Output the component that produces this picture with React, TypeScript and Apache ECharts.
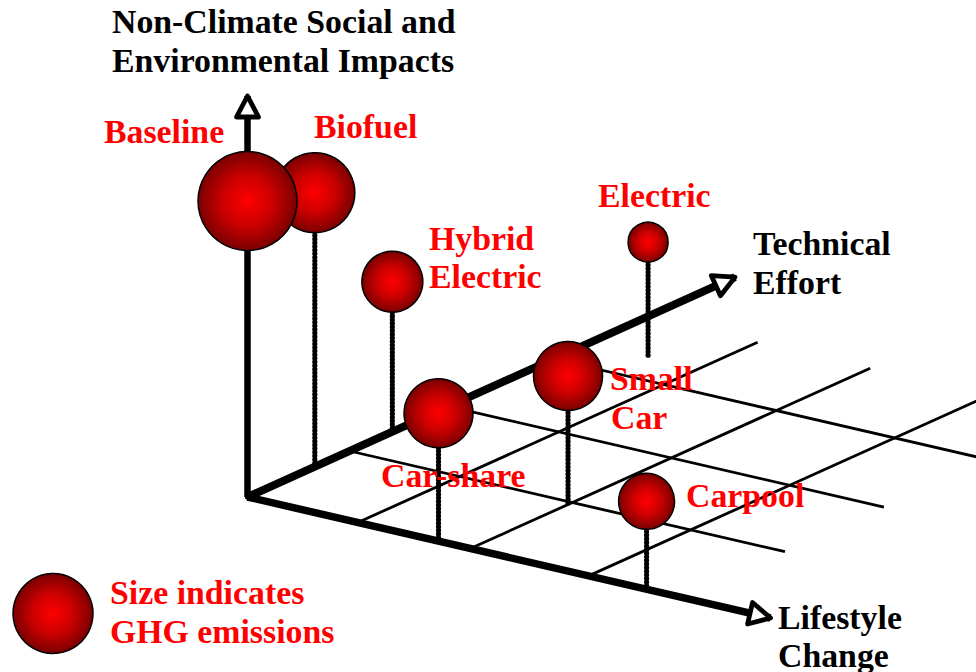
import React, { useEffect, useRef } from "react";
import * as echarts from "echarts";

// Options: lifestyle change, technical effort, non-climate impacts, GHG emissions
const optionNames = ["Biofuel", "Baseline", "Hybrid Electric", "Electric", "Car-share", "Small Car", "Carpool"];
const lifestyleChange = [0, 0, 0, 0.5, 1.68, 1.94, 3.51];
const technicalEffort = [0.66, 0, 1.42, 3.37, 0, 0.98, 0];
const nonClimateImpacts = [2.74, 2.96, 1.5, 1.13, 1.28, 1.27, 0.88];
const ghgEmissions = [80, 99, 61, 40, 69, 69, 56];

const gridLifestyle = [0.97, 1.96, 3.0];
const gridTechnical = [1, 1.97, 3];
const gridTechnicalEnd = 3.92;
const gridLifestyleEnd = 3.83;
const axisEnds = { lifestyle: 4.6, technical: 4.78, impacts: 4.01 };

const legendEmission = 80;
const legendPoint = [53, 613.5];

const WIDTH = 976;
const HEIGHT = 672;
const FONT = "bold 33.8px 'Liberation Serif', 'Times New Roman', serif";

const project = (l: number, t: number, z: number): [number, number] => [
  247.5 + l * 113.7 + t * 102,
  497 + l * 26.3 - t * 46 - z * 100,
];

const ballColor = () =>
  new echarts.graphic.RadialGradient(0.5, 0.5, 0.5, [
    { offset: 0, color: "#ff0000" },
    { offset: 0.5, color: "#cc0000" },
    { offset: 1, color: "#7a0000" },
  ]);

const lineSeries = (from: number[], to: number[], width: number, dash: any, z: number, cap = "butt") => ({
  type: "line",
  data: [from, to],
  showSymbol: false,
  silent: true,
  z,
  lineStyle: { color: "#000", width, type: dash, cap },
});

const arrowHead = (tip: [number, number], from: [number, number], len: number, half: number) => ({
  type: "custom",
  silent: true,
  z: 4,
  coordinateSystem: "cartesian2d",
  data: [[tip[0], tip[1]]],
  renderItem: (_: any, api: any) => {
    const [tx, ty] = api.coord(tip);
    const [fx, fy] = api.coord(from);
    const d = Math.hypot(tx - fx, ty - fy);
    const ux = (tx - fx) / d;
    const uy = (ty - fy) / d;
    const bx = tx - ux * len;
    const by = ty - uy * len;
    return {
      type: "polygon",
      shape: {
        points: [
          [tx, ty],
          [bx - uy * half, by + ux * half],
          [bx + uy * half, by - ux * half],
        ],
      },
      style: { fill: "#fff", stroke: "#000", lineWidth: 4.8, lineJoin: "round" },
    };
  },
});

// Text placement: [text, left, vertical centre, colour]
const textItems: [string, number, number, string][] = [
  ["Non-Climate Social and", 112, 21, "#000"],
  ["Environmental Impacts", 112, 60, "#000"],
  ["Technical", 753, 243, "#000"],
  ["Effort", 753, 282, "#000"],
  ["Lifestyle", 778, 617, "#000"],
  ["Change", 778, 655, "#000"],
  ["Baseline", 104, 131, "#ff0000"],
  ["Biofuel", 314, 126, "#ff0000"],
  ["Hybrid", 429, 238, "#ff0000"],
  ["Electric", 429, 276, "#ff0000"],
  ["Electric", 598, 195, "#ff0000"],
  ["Small", 610, 378, "#ff0000"],
  ["Car", 611, 417, "#ff0000"],
  ["Car-share", 381, 475, "#ff0000"],
  ["Carpool", 686, 495, "#ff0000"],
  ["Size indicates", 110, 592, "#ff0000"],
  ["GHG emissions", 110, 631, "#ff0000"],
];

export default function App() {
  const ref = useRef<HTMLDivElement>(null);

  useEffect(() => {
    const chart = echarts.init(ref.current!, undefined, { renderer: "svg" });

    const origin = project(0, 0, 0);
    const techTip = project(0, axisEnds.technical, 0);
    const lifeTip = project(axisEnds.lifestyle, 0, 0);
    const upTip = project(0, 0, axisEnds.impacts);

    const series: any[] = [];

    gridLifestyle.forEach((l) =>
      series.push(lineSeries(project(l, 0, 0), project(l, gridTechnicalEnd, 0), 2.8, "solid", 1))
    );
    gridTechnical.forEach((t) =>
      series.push(lineSeries(project(0, t, 0), project(gridLifestyleEnd, t, 0), 2.8, "solid", 1))
    );

    optionNames.forEach((_, i) => {
      series.push(
        lineSeries(
          project(lifestyleChange[i], technicalEffort[i], 0),
          project(lifestyleChange[i], technicalEffort[i], nonClimateImpacts[i]),
          5.2,
          [0.01, 3.6],
          2,
          "round"
        )
      );
    });

    series.push(lineSeries(origin, upTip, 6.5, "solid", 3));
    series.push(lineSeries(origin, techTip, 8, "solid", 3));
    series.push(lineSeries(origin, lifeTip, 7.5, "solid", 3));

    series.push(arrowHead(upTip, origin, 21, 11));
    series.push(arrowHead(techTip, origin, 21, 11));
    series.push(arrowHead(lifeTip, origin, 21, 11));

    series.push({
      type: "scatter",
      silent: true,
      z: 5,
      data: optionNames.map((name, i) => ({
        name,
        value: project(lifestyleChange[i], technicalEffort[i], nonClimateImpacts[i]),
        symbolSize: ghgEmissions[i],
        itemStyle: { color: ballColor(), borderColor: "#000", borderWidth: 1.5, opacity: 1 },
      })),
    });

    series.push({
      type: "scatter",
      silent: true,
      z: 5,
      data: [
        {
          name: "Size indicates GHG emissions",
          value: legendPoint,
          symbolSize: legendEmission,
          itemStyle: { color: ballColor(), borderColor: "#000", borderWidth: 1.5, opacity: 1 },
        },
      ],
    });

    chart.setOption({
      animation: false,
      backgroundColor: "#fff",
      grid: { left: 0, top: 0, width: WIDTH, height: HEIGHT },
      xAxis: { type: "value", min: 0, max: WIDTH, show: false },
      yAxis: { type: "value", min: 0, max: HEIGHT, inverse: true, show: false },
      series,
      graphic: textItems.map(([text, x, y, fill]) => ({
        type: "text",
        x,
        y,
        z: 20,
        silent: true,
        style: { text, fill, font: FONT, textAlign: "left", textVerticalAlign: "middle" },
      })),
    });

    return () => chart.dispose();
  }, []);

  return (
    <div
      ref={ref}
      style={{ position: "absolute", left: 0, top: 0, width: WIDTH, height: HEIGHT, background: "#fff" }}
    />
  );
}
